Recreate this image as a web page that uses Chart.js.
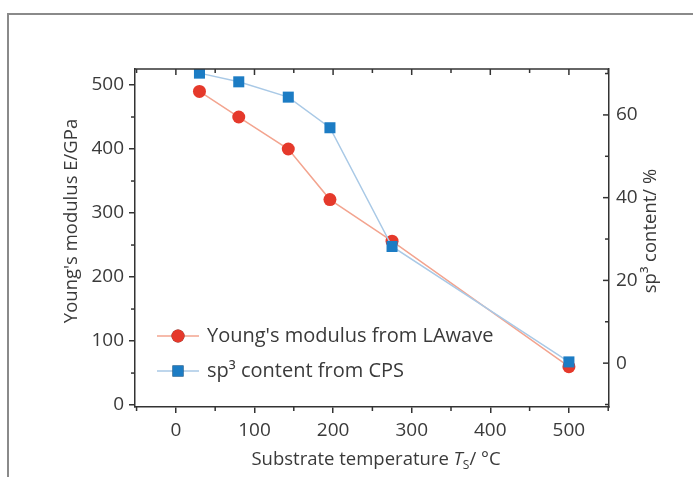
<!DOCTYPE html>
<html>
<head>
<meta charset="utf-8">
<script src="https://cdn.jsdelivr.net/npm/chart.js@4"></script>
<style>
  html, body { margin: 0; padding: 0; background: #fff; }
  #wrap { position: relative; width: 693px; height: 477px; }
  #frame { position: absolute; left: 7px; top: 13px; right: 0; bottom: 0;
           border-left: 2px solid #8a8a8a; border-top: 2px solid #8a8a8a; pointer-events: none; }
  canvas { display: block; }
</style>
</head>
<body>
<div id="wrap">
  <canvas id="chart" width="693" height="477"></canvas>
  <div id="frame"></div>
</div>
<script>
// data
const temps = [30, 80, 143, 196, 275, 500];          // substrate temperature, °C
const modulus = [490, 450, 400, 321, 256, 60];        // Young's modulus, GPa
const sp3 = [70.1, 68.0, 64.3, 56.9, 28.2, 0.3];      // sp3 content, %

const xTicks = [0, 100, 200, 300, 400, 500];
const yLeftTicks = [0, 100, 200, 300, 400, 500];
const yRightTicks = [0, 20, 40, 60];

const seriesNames = ["Young's modulus from LAwave", 'sp\u00B3 content from CPS'];

const FONT = '"Open Sans", "DejaVu Sans", sans-serif';
const TXT = '#3a3a3a';
const AXIS = '#333';

// extra axis bits: top frame, inner/minor ticks, axis titles, legend
const extras = {
  id: 'extras',
  afterDraw(chart) {
    const ctx = chart.ctx;
    const a = chart.chartArea;
    const x = chart.scales.x, yl = chart.scales.y, yr = chart.scales.y2;
    ctx.save();
    ctx.strokeStyle = AXIS;
    ctx.lineWidth = 1.5;

    // top frame line
    ctx.beginPath();
    ctx.moveTo(a.left, a.top); ctx.lineTo(a.right, a.top);
    ctx.stroke();

    // top ticks (inside) and bottom minor ticks (outside)
    for (let v = -50; v <= 550; v += 50) {
      const px = x.getPixelForValue(v);
      const major = v % 100 === 0;
      ctx.beginPath();
      ctx.moveTo(px, a.top); ctx.lineTo(px, a.top + (major ? 6 : 4));
      if (!major) { ctx.moveTo(px, a.bottom); ctx.lineTo(px, a.bottom + 4); }
      ctx.stroke();
    }
    // left minor ticks
    for (let v = 50; v <= 500; v += 100) {
      const py = yl.getPixelForValue(v);
      ctx.beginPath(); ctx.moveTo(a.left, py); ctx.lineTo(a.left - 4, py); ctx.stroke();
    }
    // right ticks, pointing inward
    for (let v = -10; v <= 70; v += 10) {
      const py = yr.getPixelForValue(v);
      const major = v % 20 === 0;
      ctx.beginPath(); ctx.moveTo(a.right, py); ctx.lineTo(a.right - (major ? 6 : 4), py); ctx.stroke();
    }

    // axis titles, both reading bottom-to-top
    ctx.fillStyle = TXT;
    ctx.font = '18.5px ' + FONT;
    ctx.textAlign = 'center';
    ctx.textBaseline = 'middle';
    [[72, 221, "Young's modulus E/GPa"], [651, 231, 'sp\u00B3 content/ %']].forEach(([tx, ty, s]) => {
      ctx.save();
      ctx.translate(tx, ty);
      ctx.rotate(-Math.PI / 2);
      ctx.fillText(s, 0, 0);
      ctx.restore();
    });

    // x title with italic T and subscript S
    const parts = [
      { t: 'Substrate temperature ', f: '18.5px ' + FONT, dy: 0 },
      { t: 'T', f: 'italic 18.5px ' + FONT, dy: 0 },
      { t: 'S', f: '12px ' + FONT, dy: 4 },
      { t: '/ \u00B0C', f: '18.5px ' + FONT, dy: 0 }
    ];
    let total = 0;
    parts.forEach(p => { ctx.font = p.f; p.w = ctx.measureText(p.t).width; total += p.w; });
    let cx = 376 - total / 2;
    ctx.textAlign = 'left';
    ctx.textBaseline = 'alphabetic';
    parts.forEach(p => { ctx.font = p.f; ctx.fillText(p.t, cx, 465 + p.dy); cx += p.w; });

    // legend
    const rows = [336, 371];
    chart.data.datasets.forEach((ds, i) => {
      const ly = rows[i];
      ctx.strokeStyle = ds.borderColor;
      ctx.lineWidth = ds.borderWidth;
      ctx.beginPath(); ctx.moveTo(157, ly); ctx.lineTo(199, ly); ctx.stroke();
      Chart.helpers.drawPoint(ctx, {
        pointStyle: ds.pointStyle, radius: ds.pointRadius, rotation: 0,
        borderWidth: 0
      }, 178, ly);
      ctx.fillStyle = ds.pointBackgroundColor;
      ctx.fill();
      ctx.fillStyle = TXT;
      ctx.font = '20px ' + FONT;
      ctx.textBaseline = 'middle';
      ctx.fillText(ds.label, 207, ly);
    });
    ctx.restore();
  }
};

new Chart(document.getElementById('chart'), {
  type: 'scatter',
  data: {
    datasets: [
      {
        label: seriesNames[0],
        data: temps.map((t, i) => ({ x: t, y: modulus[i] })),
        yAxisID: 'y',
        showLine: true,
        borderColor: '#f3a48f',
        borderWidth: 1.5,
        pointStyle: 'circle',
        pointRadius: 6.5,
        pointBackgroundColor: '#e5392b',
        pointBorderWidth: 0,
        order: 2
      },
      {
        label: seriesNames[1],
        data: temps.map((t, i) => ({ x: t, y: sp3[i] })),
        yAxisID: 'y2',
        showLine: true,
        borderColor: '#a9c9e6',
        borderWidth: 1.5,
        pointStyle: 'rect',
        pointRadius: 7.8,
        pointBackgroundColor: '#1c7cc4',
        pointBorderWidth: 0,
        order: 1
      }
    ]
  },
  options: {
    responsive: false,
    animation: false,
    layout: { padding: { top: 69, left: 0, right: 0, bottom: 0 } },
    plugins: { legend: { display: false }, tooltip: { enabled: false } },
    scales: {
      x: {
        type: 'linear', position: 'bottom', min: -52, max: 551,
        afterBuildTicks: s => { s.ticks = xTicks.map(v => ({ value: v })); },
        afterFit: s => { s.height = 70; },
        grid: { display: true, drawOnChartArea: false, drawTicks: true, tickLength: 6, color: AXIS, lineWidth: 1.5 },
        border: { display: true, color: AXIS, width: 1.5 },
        ticks: { color: TXT, font: { family: FONT, size: 19 }, padding: 6, maxRotation: 0 }
      },
      y: {
        type: 'linear', position: 'left', min: -3, max: 525,
        afterBuildTicks: s => { s.ticks = yLeftTicks.map(v => ({ value: v })); },
        afterFit: s => { s.width = 135; },
        grid: { display: true, drawOnChartArea: false, drawTicks: true, tickLength: 6, color: AXIS, lineWidth: 1.5 },
        border: { display: true, color: AXIS, width: 1.5 },
        ticks: { color: TXT, font: { family: FONT, size: 19 }, padding: 5 }
      },
      y2: {
        type: 'linear', position: 'right', min: -10.6, max: 71.1,
        afterBuildTicks: s => { s.ticks = yRightTicks.map(v => ({ value: v })); },
        afterFit: s => { s.width = 84; },
        grid: { display: false, drawOnChartArea: false, drawTicks: false },
        border: { display: true, color: AXIS, width: 1.5 },
        ticks: { color: TXT, font: { family: FONT, size: 19 }, padding: 7 }
      }
    }
  },
  plugins: [extras]
});
</script>
</body>
</html>
